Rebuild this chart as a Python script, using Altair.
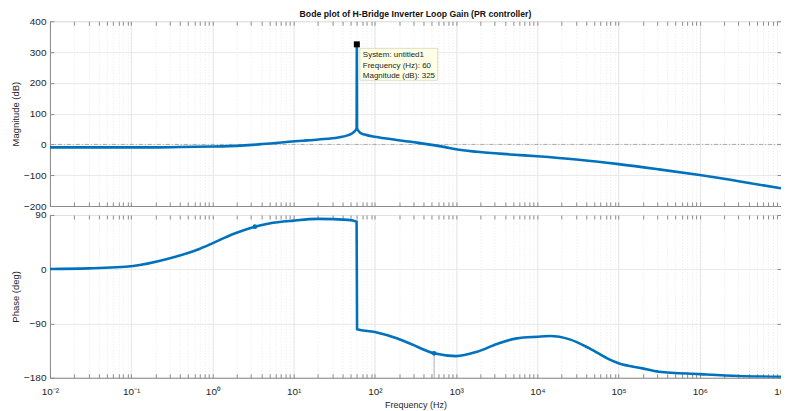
import altair as alt
import pandas as pd

# ---------------- data ----------------
mag_freq = [0.01, 0.03, 0.1, 0.17, 0.4, 1.0, 1.6, 2.5, 3.74, 6.0, 8.7, 13.0, 20.2, 35.5, 47.0, 55.0,
            59.6, 60.0, 60.4, 66.0, 75.0, 110.0, 279.0, 711.0, 1000.0, 1815.0, 4636.0, 10000.0,
            30200.0, 100000.0, 314000.0, 1e6, 3.27e6, 1e7]
mag_db = [-9.7, -9.7, -9.7, -9.7, -8.5, -7.0, -5.5, -3.0, 0.0, 4.5, 8.5, 12.0, 16.0, 22.7, 30.0, 40.0,
          52.0, 325.0, 52.0, 38.0, 32.0, 23.0, 8.5, -8.0, -16.0, -24.0, -32.5, -38.5,
          -49.0, -64.0, -81.0, -99.5, -121.0, -142.6]

ph_freq = [0.01, 0.03, 0.106, 0.27, 0.69, 1.0, 1.77, 3.34, 5.0, 10.0, 20.1, 47.0, 59.6,
           60.4, 100.0, 190.0, 279.0, 537.0, 1000.0, 1815.0, 3185.0, 5590.0, 10000.0,
           14250.0, 25000.0, 43900.0, 76900.0, 100000.0, 197000.0, 314000.0, 1e6, 3e6, 1e7]
ph_deg = [0.5, 1.5, 5.5, 16.6, 33.7, 43.0, 58.0, 70.7, 76.0, 80.7, 83.5, 81.9, 79.0,
          -99.6, -104.0, -115.0, -124.0, -139.5, -144.0, -136.8, -124.0, -114.6, -111.9,
          -110.8, -116.3, -131.2, -149.5, -156.0, -164.4, -170.0, -173.9, -177.0, -178.3]

tip_freq = [60.0]
tip_mag = [325.0]
tip_lines = ["System: untitled1", "Frequency (Hz): 60", "Magnitude (dB): 325"]

marker_freq = [3.34, 537.0]
marker_deg = [70.7, -139.5]

mag_ticks = [400, 300, 200, 100, 0, -100, -200]
ph_ticks = [90, 0, -90, -180]
decades = [-2, -1, 0, 1, 2, 3, 4, 5, 6, 7]

# ---------------- styling ----------------
BLUE = "#0072BD"
FONT = "Liberation Sans"
AX = "#8c8c8c"
TXT = "#262626"
W = 732

x_values = []
for d in decades:
    for m in range(1, 10):
        v = m * 10.0 ** d
        if v <= 1e7 * 1.0001:
            x_values.append(v)

sup = "['\u207b\u00b2','\u207b\u00b9','\u2070','\u00b9','\u00b2','\u00b3','\u2074','\u2075','\u2076','\u2077']"
is_major = "abs(log(datum.value)/LN10 - round(log(datum.value)/LN10)) < 1e-6"

xscale = alt.Scale(type="log", domain=[0.01, 1e7], nice=False)


def x_axis(show_labels):
    kw = dict(
        values=x_values,
        grid=True,
        gridColor={"condition": {"test": is_major, "value": "#dcdcdc"}, "value": "#e3e3e3"},
        gridDash={"condition": {"test": is_major, "value": []}, "value": [1, 2]},
        gridWidth=0.8,
        domainColor=AX,
        tickColor=AX,
        tickSize={"expr": "-4"},
        labelFont=FONT, labelFontSize=10, labelColor=TXT,
        titleFont=FONT, titleFontSize=9, titleColor=TXT, titleFontWeight="normal",
    )
    if show_labels:
        kw.update(
            labelExpr="(" + is_major + ") ? '10' + " + sup + "[round(log(datum.value)/LN10)+2] : ''",
            labelPadding=13,
            title="Frequency  (Hz)",
            titlePadding=4,
            labelFlush=False,
            labelOverlap=False,
        )
    else:
        kw.update(labels=False, title=None)
    return alt.Axis(**kw)


def y_axis(title, values):
    return alt.Axis(
        values=values,
        grid=True,
        gridColor="#e3e3e3",
        gridWidth=0.8,
        domainColor=AX,
        tickColor=AX,
        tickSize={"expr": "-4"},
        labelPadding=8,
        labelOverlap=False,
        labelFont=FONT, labelFontSize=10, labelColor=TXT,
        title=title, titleFont=FONT, titleFontSize=9.5, titleColor=TXT,
        titleFontWeight="normal", titlePadding=3,
    )


box_x = alt.Axis(orient="top", values=x_values, labels=False, grid=False, title=None,
                 domain=False, tickColor=AX, tickSize={"expr": "-4"})


def box_y(values):
    return alt.Axis(orient="right", values=values, labels=False, grid=False, title=None,
                    domain=False, tickColor=AX, tickSize={"expr": "-4"})


# ---------------- magnitude panel ----------------
mag_df = pd.DataFrame({"f": mag_freq, "m": mag_db})
tip_df = pd.DataFrame({"f": tip_freq, "m": tip_mag, "t": ["\n".join(tip_lines)]})

yscale_m = alt.Scale(domain=[-200, 400], nice=False, zero=False)

mag_line = alt.Chart(mag_df).mark_line(
    color=BLUE, strokeWidth=2.6, clip=True, interpolate="monotone"
).encode(
    x=alt.X("f:Q", scale=xscale, axis=x_axis(False)),
    y=alt.Y("m:Q", scale=yscale_m, axis=y_axis("Magnitude (dB)", mag_ticks)),
    order=alt.Order("f:Q"),
)

mag_box = alt.Chart(mag_df).mark_point(opacity=0).encode(
    x=alt.X("f:Q", scale=xscale, axis=box_x),
    y=alt.Y("m:Q", scale=yscale_m, axis=box_y(mag_ticks)),
)

zero_rule = alt.Chart(pd.DataFrame({"m": [0]})).mark_rule(
    color="#9a9a9a", strokeWidth=0.8, strokeDash=[4, 2, 1, 2]
).encode(y=alt.Y("m:Q", scale=yscale_m, axis=None))

tip_box = alt.Chart(tip_df).mark_rect(
    fill="#ffffe6", stroke="#d6d6bd", strokeWidth=0.8,
    xOffset=3, x2Offset=81, yOffset=4, y2Offset=36,
).encode(
    x=alt.X("f:Q", scale=xscale, axis=None), x2="f:Q",
    y=alt.Y("m:Q", scale=yscale_m, axis=None), y2="m:Q",
)

tip_pt = alt.Chart(tip_df).mark_square(color="black", size=36, opacity=1).encode(
    x=alt.X("f:Q", scale=xscale, axis=None), y=alt.Y("m:Q", scale=yscale_m, axis=None)
)

tip_text = alt.Chart(tip_df).mark_text(
    align="left", baseline="alphabetic", font=FONT, fontSize=8, color="#222",
    dx=6, dy=13, lineBreak="\n", lineHeight=10.3,
).encode(
    x=alt.X("f:Q", scale=xscale, axis=None), y=alt.Y("m:Q", scale=yscale_m, axis=None),
    text="t:N",
)

mag_chart = alt.layer(zero_rule, mag_line, mag_box, tip_box, tip_text, tip_pt).resolve_axis(
    x="independent", y="independent"
).properties(
    width=W, height=185,
    title=alt.TitleParams(
        "Bode plot of H-Bridge Inverter Loop Gain (PR controller)",
        font=FONT, fontSize=8.7, fontWeight="bold", color="#111", anchor="middle",
        offset=-2, frame="group",
    ),
)

# ---------------- phase panel ----------------
ph_df = pd.DataFrame({"f": ph_freq, "p": ph_deg})
mk_df = pd.DataFrame({"f": marker_freq, "p": marker_deg})
yscale_p = alt.Scale(domain=[-180, 90], nice=False, zero=False)

ph_line = alt.Chart(ph_df).mark_line(
    color=BLUE, strokeWidth=2.6, clip=True, interpolate="monotone"
).encode(
    x=alt.X("f:Q", scale=xscale, axis=x_axis(True)),
    y=alt.Y("p:Q", scale=yscale_p, axis=y_axis("Phase (deg)", ph_ticks)),
    order=alt.Order("f:Q"),
)

ph_box = alt.Chart(ph_df).mark_point(opacity=0).encode(
    x=alt.X("f:Q", scale=xscale, axis=box_x),
    y=alt.Y("p:Q", scale=yscale_p, axis=box_y(ph_ticks)),
)

drop_rule = alt.Chart(mk_df.iloc[[1]]).mark_rule(color="#999999", strokeWidth=0.8).encode(
    x=alt.X("f:Q", scale=xscale, axis=None),
    y=alt.Y("p:Q", scale=yscale_p, axis=None), y2=alt.datum(-180),
)

ph_marks = alt.Chart(mk_df).mark_circle(color=BLUE, size=22, opacity=1).encode(
    x=alt.X("f:Q", scale=xscale, axis=None), y=alt.Y("p:Q", scale=yscale_p, axis=None)
)

ph_chart = alt.layer(drop_rule, ph_line, ph_box, ph_marks).resolve_axis(
    x="independent", y="independent"
).properties(width=W, height=163)

chart = alt.vconcat(mag_chart, ph_chart, spacing=9, bounds="flush").properties(
    padding={"left": 1, "top": 0, "right": -8, "bottom": 0}
).configure_view(
    stroke=AX, strokeWidth=1
).configure(background="white")

chart.save("out.html", embed_options={"renderer": "svg", "actions": False})
